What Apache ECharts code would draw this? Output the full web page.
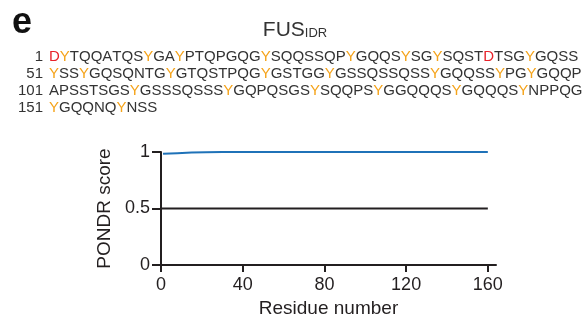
<!DOCTYPE html>
<html>
<head>
<meta charset="utf-8">
<script src="https://cdn.jsdelivr.net/npm/echarts@6/dist/echarts.min.js"></script>
<style>
  html, body { margin: 0; padding: 0; background: #fff; }
  #chart { width: 587px; height: 322px; }
</style>
</head>
<body>
<div id="chart"></div>
<script>
// sequence rows of FUS IDR
const seqStarts = ['1', '51', '101', '151'];
const seqRows = [
  'DYTQQATQSYGAYPTQPGQGYSQQSSQPYGQQSYSGYSQSTDTSGYGQSS',
  'YSSYGQSQNTGYGTQSTPQGYGSTGGYGSSQSSQSSYGQQSSYPGYGQQP',
  'APSSTSGSYGSSSQSSSYGQPQSGSYSQQPSYGGQQQSYGQQQSYNPPQG',
  'YGQQNQYNSS'
];
// PONDR score along the residues
const residues = [1, 8, 15, 22, 30, 40, 60, 80, 100, 120, 140, 160];
const scores = [0.985, 0.99, 0.995, 0.998, 1, 1, 1, 1, 1, 1, 1, 1];
// 0.5 threshold
const threshX = [0, 160];
const threshY = [0.5, 0.5];
const xTicks = [0, 40, 80, 120, 160];
const yTicks = [0, 0.5, 1];

const dark = '#231f20';
const chart = echarts.init(document.getElementById('chart'));

// colour Y orange, D red
function richSeq(s) {
  return s.split('').map(c => c === 'Y' ? '{y|Y}' : c === 'D' ? '{d|D}' : '{n|' + c + '}').join('');
}
const seqFont = { fontFamily: 'Liberation Sans', fontSize: 15 };
const seqGraphics = [];
seqRows.forEach((row, i) => {
  const y = 57 + i * 17;
  seqGraphics.push({
    type: 'text', x: 43, y: y,
    style: Object.assign({ text: seqStarts[i], fill: '#333', align: 'right', verticalAlign: 'middle' }, seqFont)
  });
  seqGraphics.push({
    type: 'text', x: 49, y: y,
    style: Object.assign({
      text: richSeq(row), align: 'left', verticalAlign: 'middle',
      rich: {
        n: Object.assign({ fill: '#333' }, seqFont),
        y: Object.assign({ fill: '#f5a31a' }, seqFont),
        d: Object.assign({ fill: '#e8222a' }, seqFont)
      }
    }, seqFont)
  });
});

const option = {
  animation: false,
  textStyle: { fontFamily: 'Liberation Sans' },
  graphic: [
    { type: 'text', x: 12, y: 5,
      style: { text: 'e', fontFamily: 'Liberation Sans', fontWeight: 'bold', fontSize: 36, fill: '#111' } },
    { type: 'text', x: 295, y: 30,
      style: {
        text: '{a|FUS}{b|IDR}', align: 'center', verticalAlign: 'middle',
        rich: {
          a: { fontFamily: 'Liberation Sans', fontSize: 21, fill: '#333', verticalAlign: 'bottom' },
          b: { fontFamily: 'Liberation Sans', fontSize: 13, fill: '#333', verticalAlign: 'bottom', padding: [0, 0, 1, 0] }
        }
      } }
  ].concat(seqGraphics),
  grid: { left: 161, right: 91, top: 152, bottom: 57 },
  xAxis: {
    type: 'value', min: 0, max: 164,
    name: 'Residue number', nameLocation: 'middle', nameGap: 34,
    nameTextStyle: { fontSize: 19, color: dark, fontFamily: 'Liberation Sans' },
    axisLine: { lineStyle: { color: dark, width: 2 } },
    axisTick: { show: true, length: 7, lineStyle: { color: dark, width: 2 }, customValues: xTicks },
    axisLabel: { fontSize: 18, color: dark, margin: 11, customValues: xTicks },
    splitLine: { show: false }
  },
  yAxis: {
    type: 'value', min: 0, max: 1, interval: 0.5,
    name: 'PONDR score', nameLocation: 'middle', nameGap: 45,
    nameTextStyle: { fontSize: 19, color: dark, fontFamily: 'Liberation Sans' },
    axisLine: { show: true, lineStyle: { color: dark, width: 2 } },
    axisTick: { show: true, length: 9, lineStyle: { color: dark, width: 2 }, customValues: yTicks },
    axisLabel: { fontSize: 18, color: dark, margin: 11, customValues: yTicks,
      formatter: v => String(v) },
    splitLine: { show: false }
  },
  series: [
    {
      type: 'line', showSymbol: false, clip: false,
      data: threshX.map((x, i) => [x, threshY[i]]),
      lineStyle: { color: dark, width: 2 }
    },
    {
      type: 'line', showSymbol: false, clip: false,
      data: residues.map((x, i) => [x, scores[i]]),
      lineStyle: { color: '#1f72b8', width: 2 }
    }
  ]
};
chart.setOption(option);
</script>
</body>
</html>
